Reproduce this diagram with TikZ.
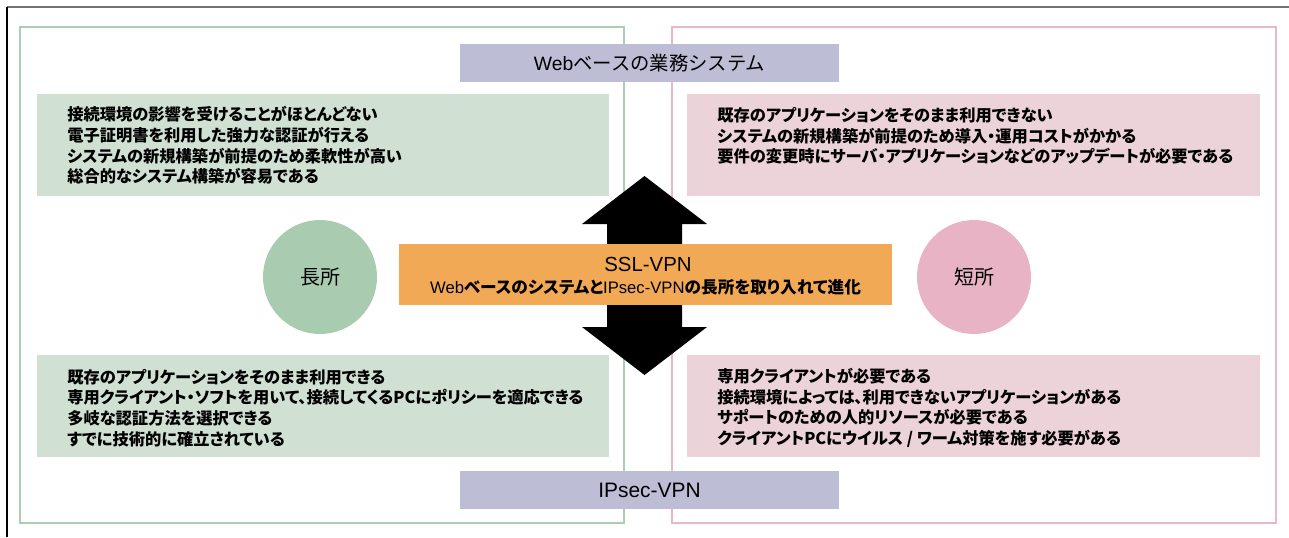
\documentclass[tikz,border=0pt]{standalone}
\usepackage{fontspec}
\newfontfamily\jp{Noto Sans CJK JP}
\newfontfamily\jpp[RawFeature=+palt]{Noto Sans CJK JP}
\newfontfamily\lat{Liberation Sans}
\definecolor{gframe}{RGB}{170,205,180}
\definecolor{pframe}{RGB}{233,184,200}
\definecolor{gbox}{RGB}{208,224,211}
\definecolor{pbox}{RGB}{236,211,218}
\definecolor{gcirc}{RGB}{169,204,176}
\definecolor{pcirc}{RGB}{232,180,197}
\definecolor{lav}{RGB}{189,190,214}
\definecolor{orng}{RGB}{242,169,85}
\tikzset{
  frame/.style={draw=#1, line width=1.8pt, fill=none},
  panel/.style={fill=#1, draw=none, inner sep=0pt, minimum width=429.5pt, minimum height=76.5pt},
  headbox/.style={fill=lav, draw=none, inner sep=0pt, minimum width=284.25pt, minimum height=28.5pt, font=\lat\fontsize{14.5}{17}\selectfont},
  circ/.style={circle, fill=#1, draw=none, inner sep=0pt, minimum size=85.5pt, font=\jp\fontsize{15}{18}\selectfont},
  body/.style={anchor=west, align=left, inner sep=0pt, font=\jpp\bfseries\fontsize{12.2}{15.5}\selectfont},
}
\begin{document}
\begin{tikzpicture}[x=0.75pt,y=-0.75pt]
\useasboundingbox[fill=white] (0,0) rectangle (1289,537);
% outer frame
\draw[gray!90!black, line width=1.1pt] (7,7) -- (1289,7);
\draw[black, line width=0.8pt] (7,7) -- (7,537);
% side frames
\draw[frame=gframe] (20,27) rectangle (624,523);
\draw[frame=pframe] (672,27) rectangle (1276,523);
% panels
\node[panel=gbox] (tl) at (323,145) {};
\node[panel=pbox] (tr) at (973.5,145) {};
\node[panel=gbox] (bl) at (323,406) {};
\node[panel=pbox] (br) at (973.5,406) {};
% headings
\node[headbox] (web) at (649.5,63) {Web{\jp ベースの業務システム}};
\node[headbox, minimum height=28.5pt, font=\lat\fontsize{15.7}{18}\selectfont] (ipsec) at (649.5,490) {IPsec-VPN};
% circles
\node[circ=gcirc] (merit) at (320,277) {長所};
\node[circ=pcirc] (demerit) at (974,277) {短所};
% double arrow
\coordinate (atop) at (644.5,176);
\coordinate (abot) at (644.5,375);
\fill[black] (atop) -- (707,224) -- (682,224) -- (682,327) -- (707,327) -- (abot)
  -- (582,327) -- (607,327) -- (607,224) -- (582,224) -- cycle;
% center box
\node[fill=orng, draw=none, inner sep=0pt, minimum width=369.75pt, minimum height=45.75pt] (ssl) at (645.5,274.5) {};
\node[inner sep=0pt, font=\lat\fontsize{15.3}{18}\selectfont] (ssltitle) at (648,264) {SSL-VPN};
\node[inner sep=0pt, font=\lat\fontsize{12.5}{14}\selectfont] (ssldesc) at (645.5,287)
  {Web{\jpp\bfseries ベースのシステムと}IPsec-VPN{\jpp\bfseries の長所を取り入れて進化}};
% texts
\node[body] (tltext) at (67,145.5) {接続環境の影響を受けることがほとんどない\\電子証明書を利用した強力な認証が行える\\システムの新規構築が前提のため柔軟性が高い\\総合的なシステム構築が容易である};
\node[body] (trtext) at (717,136) {既存のアプリケーションをそのまま利用できない\\システムの新規構築が前提のため導入・運用コストがかかる\\要件の変更時にサーバ・アプリケーションなどのアップデートが必要である};
\node[body] (bltext) at (67,408) {既存のアプリケーションをそのまま利用できる\\専用クライアント・ソフトを用いて、接続してくるPCにポリシーを適応できる\\多岐な認証方法を選択できる\\すでに技術的に確立されている};
\node[body] (brtext) at (717,408) {専用クライアントが必要である\\接続環境によっては、利用できないアプリケーションがある\\サポートのための人的リソースが必要である\\クライアントPCにウイルス / ワーム対策を施す必要がある};
\end{tikzpicture}
\end{document}
